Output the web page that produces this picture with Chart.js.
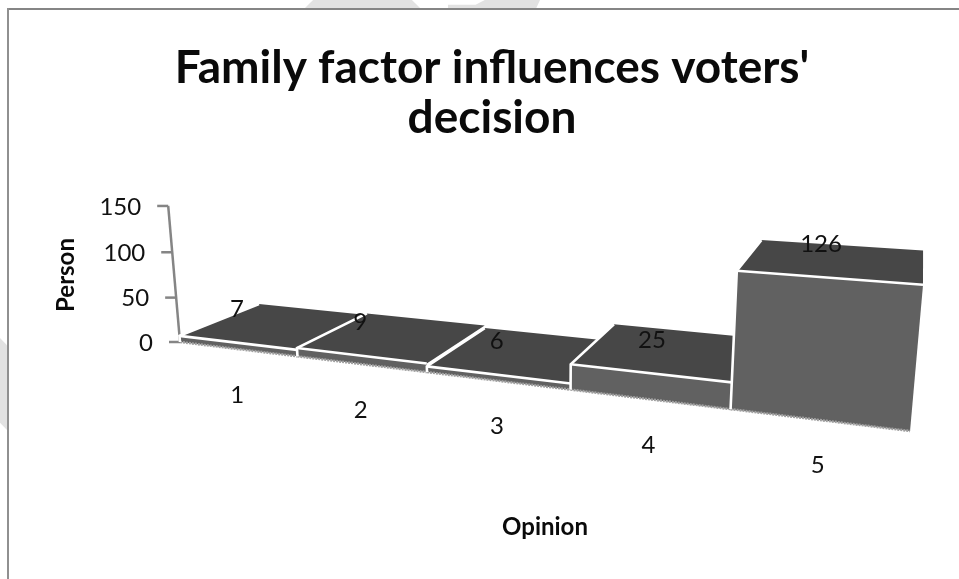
<!DOCTYPE html>
<html>
<head>
<meta charset="utf-8">
<style>
html,body{margin:0;padding:0;background:#fff;width:959px;height:579px;overflow:hidden}
#wrap{position:relative;width:959px;height:579px}
canvas{position:absolute;left:0;top:0;filter:blur(0.45px)}
.frameTop{position:absolute;left:7px;top:8px;width:952px;height:2px;background:#858585}
.frameLeft{position:absolute;left:7px;top:8px;width:2px;height:571px;background:#909090}
.mark{position:absolute;background:#e2e2e2}
</style>
<script src="https://cdn.jsdelivr.net/npm/chart.js@4"></script>
</head>
<body>
<div id="wrap">
<div class="mark" style="left:305px;top:0;width:115px;height:8px;clip-path:polygon(7% 0,93% 0,100% 100%,0 100%)"></div>
<div class="mark" style="left:448px;top:0;width:92px;height:8px;clip-path:polygon(40% 0,100% 0,96% 100%,0 100%,0 60%,30% 60%)"></div>
<div class="mark" style="left:0;top:338px;width:7px;height:92px;clip-path:polygon(0 0,100% 8%,100% 100%,0 92%)"></div>
<div class="frameTop"></div>
<div class="frameLeft"></div>
<canvas id="c" width="959" height="579"></canvas>
</div>
<script>
const categories = ["1","2","3","4","5"];
const personCounts = [7,9,6,25,126];
const chartTitle = ["Family factor influences voters'","decision"];
const xAxisTitle = "Opinion";
const yAxisTitle = "Person";

// Perspective view of the (category, value, depth) box
function project(u,h,d){
  const w = 1 - 0.0466*u - 0.000209*h + 0.1196*d;
  return { x:(180 + 103.6*u - 0.1138*h + 110.4*d)/w,
           y:(342 - 2.28*u - 0.95*h + 4.55*d)/w };
}
function poly(ctx,pts){
  ctx.beginPath();
  pts.forEach((p,i)=> i?ctx.lineTo(p.x,p.y):ctx.moveTo(p.x,p.y));
}
let ref = null;
const TOP_FACE = "#474747";

// Bars: the library's element computes x / y / base / width; we draw them in the view
Chart.BarElement.prototype.draw = function(ctx){
  const xs = ref.scales.x, ys = ref.scales.y, n = categories.length;
  const u0 = (this.x - this.width/2 - xs.left)/xs.width*n;
  const u1 = (this.x + this.width/2 - xs.left)/xs.width*n;
  const h = ys.getValueForPixel(this.y);
  const fb0=project(u0,0,0), fb1=project(u1,0,0), ft0=project(u0,h,0), ft1=project(u1,h,0),
        bt0=project(u0,h,1), bt1=project(u1,h,1);
  ctx.save();
  poly(ctx,[fb0,fb1,ft1,ft0]); ctx.closePath();
  ctx.fillStyle=this.options.backgroundColor; ctx.fill();
  poly(ctx,[ft0,ft1,bt1,bt0]); ctx.closePath();
  ctx.fillStyle=TOP_FACE; ctx.fill();
  // base shadow
  poly(ctx,[fb0,fb1]); ctx.strokeStyle="#a0a0a0"; ctx.lineWidth=2.5; ctx.setLineDash([2,1]); ctx.stroke();
  ctx.setLineDash([]);
  // white edges
  ctx.strokeStyle=this.options.borderColor; ctx.lineWidth=2.6;
  poly(ctx,[fb0,ft0,bt0]); ctx.stroke();
  poly(ctx,[ft0,ft1]); ctx.stroke();
  ctx.restore();
};

const view3d = {
  id:"view3d",
  beforeInit(c){ ref=c; },
  beforeDraw(c){
    const xs=c.scales.x, ys=c.scales.y;
    xs.getLabelItems().forEach((it,i)=>{
      const p=project(i+0.5,0,0);
      it.textOffset=0;
      it.options.textAlign="center"; it.options.textBaseline="middle";
      it.options.translation=[p.x,p.y+46];
    });
    ys.getLabelItems().forEach((it,i)=>{
      const p=project(0,ys.ticks[i].value,0);
      it.textOffset=0;
      it.options.textAlign="right"; it.options.textBaseline="middle";
      it.options.translation=[p.x-27,p.y+1];
    });
  },
  beforeDatasetsDraw(c){
    const ctx=c.ctx, ys=c.scales.y;
    ctx.save();
    ctx.strokeStyle="#858585"; ctx.lineWidth=2.5;
    const vals=ys.ticks.map(t=>t.value);
    poly(ctx,[project(0,vals[0],0),project(0,vals[vals.length-1],0)]); ctx.stroke();
    vals.forEach(v=>{
      const p=project(0,v,0);
      ctx.beginPath(); ctx.moveTo(p.x-11,p.y); ctx.lineTo(p.x,p.y); ctx.stroke();
    });
    ctx.restore();
  },
  afterDatasetsDraw(c){
    const ctx=c.ctx;
    ctx.save();
    ctx.fillStyle="#111"; ctx.font="24px Lato"; ctx.textAlign="center"; ctx.textBaseline="middle";
    c.getDatasetMeta(0).data.forEach((el,i)=>{
      const p=project(i+0.5,personCounts[i],0);
      ctx.fillText(String(personCounts[i]),p.x-(i===4?6:0)+(i===3?3:0),p.y-33);
    });
    ctx.restore();
  }
};

new Chart(document.getElementById("c"),{
  type:"bar",
  data:{labels:categories,datasets:[{data:personCounts,backgroundColor:"#616161",borderColor:"#ffffff",barPercentage:1,categoryPercentage:1,clip:false}]},
  plugins:[view3d],
  options:{
    responsive:false,animation:false,
    layout:{padding:{left:54,right:29,top:0,bottom:0}},
    plugins:{
      legend:{display:false},tooltip:{enabled:false},
      title:{display:true,text:chartTitle,color:"#0a0a0a",font:{family:"Lato",weight:"700",size:46,lineHeight:1.087},padding:{top:43,bottom:62}}
    },
    scales:{
      x:{
        grid:{display:false},border:{display:false},
        ticks:{color:"#111",font:{family:"Lato",size:24},autoSkip:false,maxRotation:0},
        title:{display:true,text:xAxisTitle,color:"#0a0a0a",font:{family:"Lato",weight:"700",size:24,lineHeight:1},padding:{top:0,bottom:40}},
        afterFit(s){s.height=234;}
      },
      y:{
        min:0,max:150,
        grid:{display:false},border:{display:false},
        ticks:{stepSize:50,color:"#111",font:{family:"Lato",size:24}},
        title:{display:true,text:yAxisTitle,color:"#0a0a0a",font:{family:"Lato",weight:"700",size:24,lineHeight:1},padding:{top:0,bottom:0}},
        afterFit(s){s.width=106;}
      }
    }
  }
});
</script>
</body>
</html>
